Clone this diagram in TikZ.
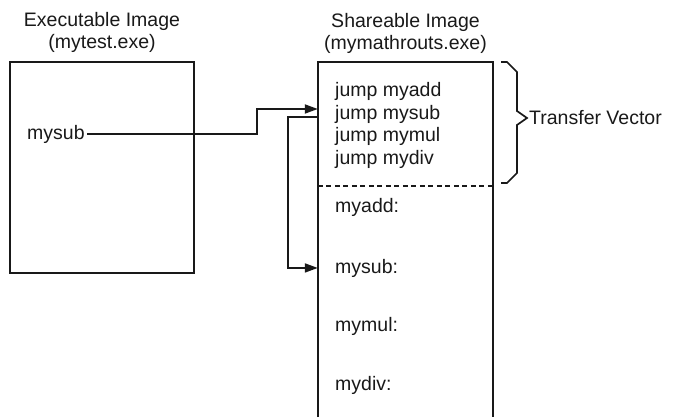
\documentclass[tikz,border=0pt]{standalone}
\usepackage{fontspec}
\setmainfont{Liberation Sans}
\usetikzlibrary{arrows.meta, positioning}

\begin{document}
\begin{tikzpicture}[
    x=1pt, y=-1pt,
    font=\fontsize{19.5}{23.4}\selectfont,
    image/.style={rectangle, inner sep=0pt, minimum width=184pt, minimum height=211pt},
    title/.style={align=center, inner sep=0pt, text=black!90, font=\fontsize{19.5}{22}\selectfont},
    lbl/.style={anchor=base west, inner sep=0pt, text=black!90},
    frame/.style={line width=2.2pt, draw=black!90},
    arrow/.style={-{Triangle[length=13pt, width=9pt]}, line width=1.8pt, draw=black!90},
    brace/.style={line width=1.7pt, draw=black!90}
]
\useasboundingbox (0,0) rectangle (676,417);

% Executable image
\node[image, frame] (exe) at (102,167.5) {};
\node[title, above=8pt of exe] (exettl) {Executable Image\\(mytest.exe)};
\node[lbl, inner xsep=2.5pt] (call) at (24.5,139) {mysub};

% Shareable image (runs off the bottom)
\node[image, minimum width=175pt, minimum height=355pt] (shr) at (405.5,239.5) {};
\draw[frame] (shr.south west) -- (shr.north west) -- (shr.north east) -- (shr.south east);
\node[title, above=8pt of shr] (shrttl) {Shareable Image\\(mymathrouts.exe)};
\coordinate (split) at (0,186);
\draw[frame, line width=1.7pt, dash pattern=on 5pt off 3.5pt] (shr.west |- split) -- (shr.east |- split);

% Transfer vector entries
\node[lbl] (jadd) at (335,96.5) {jump myadd};
\node[lbl] (jsub) at (335,119) {jump mysub};
\node[lbl] (jmul) at (335,141.5) {jump mymul};
\node[lbl] (jdiv) at (335,164) {jump mydiv};

% Routines
\node[lbl] (radd) at (335,212) {myadd:};
\node[lbl] (rsub) at (335,273) {mysub:};
\node[lbl] (rmul) at (335,331) {mymul:};
\node[lbl] (rdiv) at (335,390) {mydiv:};

% Brace
\coordinate (tvtop) at (501,62);
\coordinate (tvtip) at (527,118);
\draw[brace] (tvtop) -- ++(6,0) -- ++(10,10) -- ++(0,39) -- (tvtip) -- ++(-10,7) -- ++(0,48) -- ++(-10,10) -- ++(-6,0);
\node[lbl, anchor=west, right=2pt of tvtip] (tv) {Transfer Vector};

% Arrows
\coordinate (jog) at (257,0);
\coordinate (loop) at (288,0);
\coordinate (in1) at (shr.west |- 0,109);
\coordinate (out1) at (shr.west |- 0,117);
\coordinate (in2) at (shr.west |- rsub.west);
\draw[arrow] (call.east) -| (jog |- in1) -- (in1);
\draw[arrow] (out1) -| (loop |- in2) -- (in2);

\end{tikzpicture}
\end{document}
